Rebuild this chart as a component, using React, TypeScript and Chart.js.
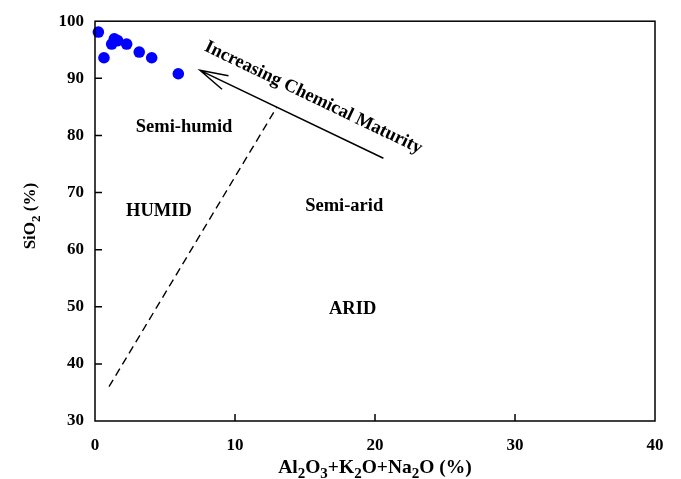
import React, { useEffect, useRef } from "react";
import { Chart, registerables } from "chart.js";

Chart.register(...registerables);

// ---- data ----
const sampleX = [0.24, 0.64, 1.19, 1.38, 1.62, 2.26, 3.16, 4.05, 5.95];
const sampleY = [98.1, 93.6, 96.0, 96.9, 96.6, 96.0, 94.6, 93.6, 90.8];
const xTicks = [0, 10, 20, 30, 40];
const yTicks = [30, 40, 50, 60, 70, 80, 90, 100];
const boundaryX = [1.0, 13.0];
const boundaryY = [36.0, 85.0];
const arrowX = [20.6, 7.5];
const arrowY = [76.0, 91.4];
const regionLabels = ["Semi-humid", "HUMID", "Semi-arid", "ARID"];
const regionX = [6.36, 4.57, 17.8, 18.4];
const regionY = [81.4, 66.7, 67.6, 49.5];
const arrowLabel = "Increasing Chemical Maturity";
const arrowLabelX = 15.6;
const arrowLabelY = 86.6;
const xTitle: [string, boolean][] = [
  ["Al", false], ["2", true], ["O", false], ["3", true], ["+K", false], ["2", true],
  ["O+Na", false], ["2", true], ["O (%)", false],
];
const yTitle: [string, boolean][] = [["SiO", false], ["2", true], [" (%)", false]];

const FONT = '"Liberation Serif", "Times New Roman", serif';

function drawSegments(ctx: CanvasRenderingContext2D, segs: [string, boolean][], size: number, subSize: number, subShift: number) {
  const mainFont = `bold ${size}px ${FONT}`;
  const subFont = `bold ${subSize}px ${FONT}`;
  let total = 0;
  for (const [t, sub] of segs) {
    ctx.font = sub ? subFont : mainFont;
    total += ctx.measureText(t).width;
  }
  let x = -total / 2;
  ctx.textAlign = "left";
  ctx.textBaseline = "alphabetic";
  for (const [t, sub] of segs) {
    ctx.font = sub ? subFont : mainFont;
    ctx.fillText(t, x, sub ? subShift : 0);
    x += ctx.measureText(t).width;
  }
}

const overlay = {
  id: "overlay",
  afterDatasetsDraw(chart: any) {
    const ctx: CanvasRenderingContext2D = chart.ctx;
    const { left, right, top, bottom } = chart.chartArea;
    const xs = chart.scales.x;
    const ys = chart.scales.y;
    ctx.save();
    ctx.strokeStyle = "#000";
    ctx.fillStyle = "#000";
    // frame
    ctx.lineWidth = 1.5;
    ctx.strokeRect(left, top, right - left, bottom - top);
    // inner ticks
    ctx.beginPath();
    for (const v of yTicks) {
      if (v === yTicks[0] || v === yTicks[yTicks.length - 1]) continue;
      const py = ys.getPixelForValue(v);
      ctx.moveTo(left, py);
      ctx.lineTo(left + 7, py);
    }
    for (const v of xTicks) {
      if (v === xTicks[0] || v === xTicks[xTicks.length - 1]) continue;
      const px = xs.getPixelForValue(v);
      ctx.moveTo(px, bottom);
      ctx.lineTo(px, bottom - 7);
    }
    ctx.stroke();
    // arrow
    const x0 = xs.getPixelForValue(arrowX[0]);
    const y0 = ys.getPixelForValue(arrowY[0]);
    const x1 = xs.getPixelForValue(arrowX[1]);
    const y1 = ys.getPixelForValue(arrowY[1]);
    ctx.lineWidth = 1.5;
    ctx.beginPath();
    ctx.moveTo(x0, y0);
    ctx.lineTo(x1, y1);
    const ang = Math.atan2(y0 - y1, x0 - x1);
    const head = 29;
    const spread = (15 * Math.PI) / 180;
    ctx.moveTo(x1 + head * Math.cos(ang - spread), y1 + head * Math.sin(ang - spread));
    ctx.lineTo(x1, y1);
    ctx.lineTo(x1 + head * Math.cos(ang + spread), y1 + head * Math.sin(ang + spread));
    ctx.stroke();
    // arrow label
    ctx.save();
    ctx.translate(xs.getPixelForValue(arrowLabelX), ys.getPixelForValue(arrowLabelY));
    ctx.rotate(ang);
    ctx.font = `bold 18.5px ${FONT}`;
    ctx.textAlign = "center";
    ctx.textBaseline = "middle";
    ctx.fillText(arrowLabel, 0, 0);
    ctx.restore();
    // region labels
    ctx.font = `bold 18.5px ${FONT}`;
    ctx.textAlign = "center";
    ctx.textBaseline = "middle";
    regionLabels.forEach((t, i) => {
      ctx.fillText(t, xs.getPixelForValue(regionX[i]), ys.getPixelForValue(regionY[i]));
    });
    ctx.restore();
  },
  afterDraw(chart: any) {
    const ctx: CanvasRenderingContext2D = chart.ctx;
    const { left, right, top, bottom } = chart.chartArea;
    ctx.save();
    ctx.fillStyle = "#000";
    ctx.translate((left + right) / 2, 473);
    drawSegments(ctx, xTitle, 19.5, 15, 5);
    ctx.restore();
    ctx.save();
    ctx.fillStyle = "#000";
    ctx.translate(35, (top + bottom) / 2 - 5);
    ctx.rotate(-Math.PI / 2);
    drawSegments(ctx, yTitle, 17, 13, 5);
    ctx.restore();
  },
};

export default function App() {
  const ref = useRef<HTMLCanvasElement | null>(null);
  useEffect(() => {
    if (!ref.current) return;
    const tickFont = { family: FONT, size: 17, weight: "bold" as const };
    const chart = new Chart(ref.current, {
      type: "scatter",
      data: {
        datasets: [
          {
            label: "samples",
            data: sampleX.map((x, i) => ({ x, y: sampleY[i] })),
            backgroundColor: "#0000ff",
            borderWidth: 0,
            pointRadius: 5.8,
            pointHoverRadius: 5.8,
            clip: false as any,
            order: 0,
          },
          {
            type: "line" as any,
            label: "boundary",
            data: boundaryX.map((x, i) => ({ x, y: boundaryY[i] })),
            borderColor: "#000",
            borderWidth: 1.4,
            borderDash: [8, 5],
            pointRadius: 0,
            showLine: true,
            fill: false,
            order: 1,
          },
        ],
      },
      options: {
        animation: false,
        responsive: false,
        events: [],
        layout: { padding: { left: 0, top: 19, right: 26, bottom: 0 } },
        plugins: { legend: { display: false }, tooltip: { enabled: false } },
        scales: {
          x: {
            type: "linear",
            min: 0,
            max: 40,
            grid: { display: false, drawTicks: false },
            border: { display: false },
            ticks: { font: tickFont, color: "#000", padding: 14, maxRotation: 0 },
            afterBuildTicks: (s: any) => {
              s.ticks = xTicks.map((v) => ({ value: v }));
            },
            afterFit: (s: any) => {
              s.height = 58;
            },
          },
          y: {
            type: "linear",
            min: 30,
            max: 100,
            grid: { display: false, drawTicks: false },
            border: { display: false },
            ticks: { font: tickFont, color: "#000", padding: 11 },
            afterBuildTicks: (s: any) => {
              s.ticks = yTicks.map((v) => ({ value: v }));
            },
            afterFit: (s: any) => {
              s.width = 95;
            },
          },
        },
      },
      plugins: [overlay],
    });
    return () => chart.destroy();
  }, []);
  return (
    <div style={{ position: "absolute", left: 0, top: 0, width: 681, height: 479, background: "#fff" }}>
      <canvas ref={ref} width={681} height={479} style={{ display: "block" }} />
    </div>
  );
}
